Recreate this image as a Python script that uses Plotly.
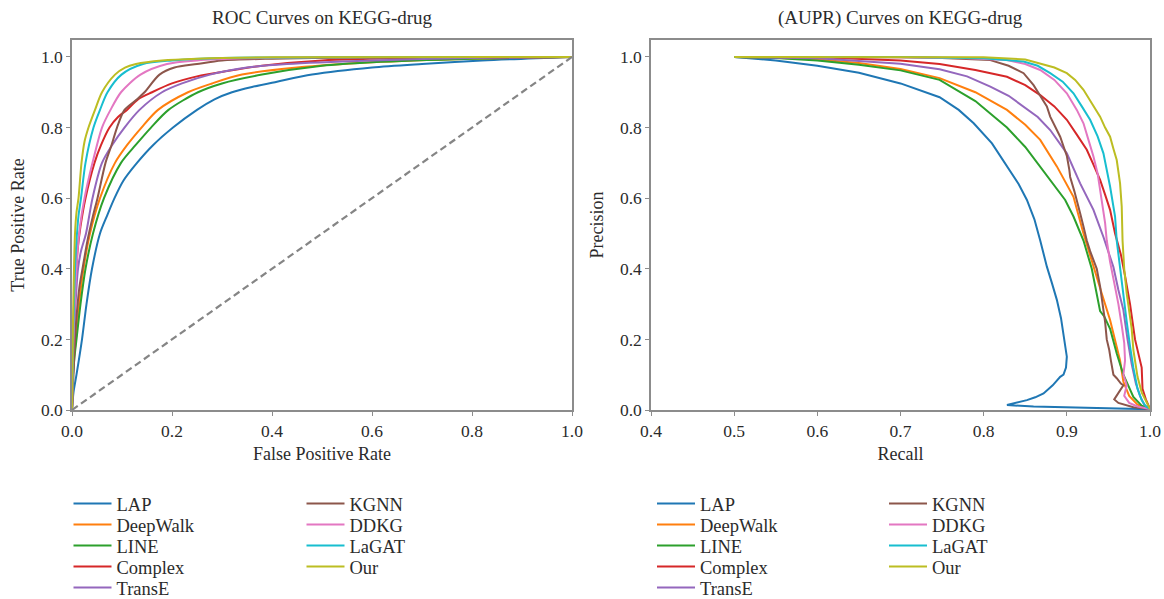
import plotly.graph_objects as go

# ---------------- data ----------------
MODELS = ["LAP", "DeepWalk", "LINE", "Complex", "TransE", "KGNN", "DDKG", "LaGAT", "Our"]
COLORS = ["#1f77b4", "#ff7f0e", "#2ca02c", "#d62728", "#9467bd",
          "#8c564b", "#e377c2", "#17becf", "#bcbd22"]

# ROC curves (false positive rate, true positive rate)
LAP_FPR = [0, 0.003, 0.009, 0.02, 0.029, 0.04, 0.056, 0.07, 0.085, 0.103, 0.13, 0.162, 0.202, 0.25, 0.285, 0.32, 0.36, 0.41, 0.48, 0.6, 0.7, 0.82, 1.0]
LAP_TPR = [0, 0.05, 0.1, 0.2, 0.3, 0.4, 0.5, 0.55, 0.6, 0.65, 0.7, 0.75, 0.8, 0.85, 0.88, 0.9, 0.915, 0.93, 0.95, 0.97, 0.98, 0.99, 1.0]
DEEPWALK_FPR = [0, 0.002, 0.004, 0.008, 0.014, 0.023, 0.036, 0.056, 0.086, 0.11, 0.139, 0.172, 0.232, 0.28, 0.34, 0.45, 0.6, 0.8, 1.0]
DEEPWALK_TPR = [0, 0.1, 0.15, 0.2, 0.3, 0.4, 0.5, 0.6, 0.7, 0.75, 0.8, 0.85, 0.9, 0.925, 0.95, 0.97, 0.985, 0.995, 1.0]
LINE_FPR = [0, 0.002, 0.005, 0.009, 0.017, 0.027, 0.042, 0.064, 0.098, 0.127, 0.158, 0.193, 0.252, 0.3, 0.38, 0.5, 0.6, 0.8, 1.0]
LINE_TPR = [0, 0.1, 0.15, 0.2, 0.3, 0.4, 0.5, 0.6, 0.7, 0.75, 0.8, 0.85, 0.9, 0.925, 0.95, 0.975, 0.985, 0.995, 1.0]
COMPLEX_FPR = [0, 0.002, 0.004, 0.007, 0.011, 0.017, 0.027, 0.045, 0.058, 0.075, 0.092, 0.11, 0.132, 0.16, 0.2, 0.25, 0.31, 0.38, 0.5, 0.7, 1.0]
COMPLEX_TPR = [0, 0.15, 0.25, 0.35, 0.45, 0.52, 0.6, 0.7, 0.75, 0.8, 0.83, 0.85, 0.88, 0.9, 0.925, 0.945, 0.96, 0.975, 0.99, 0.997, 1.0]
TRANSE_FPR = [0, 0.002, 0.004, 0.007, 0.012, 0.018, 0.028, 0.041, 0.06, 0.08, 0.105, 0.135, 0.18, 0.22, 0.276, 0.35, 0.43, 0.6, 0.8, 1.0]
TRANSE_TPR = [0, 0.1, 0.2, 0.3, 0.4, 0.45, 0.5, 0.6, 0.7, 0.75, 0.8, 0.85, 0.9, 0.925, 0.95, 0.97, 0.98, 0.99, 0.997, 1.0]
KGNN_FPR = [0, 0.003, 0.006, 0.01, 0.015, 0.021, 0.031, 0.042, 0.051, 0.067, 0.079, 0.09, 0.105, 0.13, 0.145, 0.175, 0.205, 0.25, 0.3, 0.4, 0.55, 0.75, 1.0]
KGNN_TPR = [0, 0.1, 0.2, 0.28, 0.35, 0.4, 0.48, 0.55, 0.6, 0.7, 0.75, 0.8, 0.85, 0.88, 0.9, 0.95, 0.97, 0.98, 0.99, 0.995, 0.998, 1.0, 1.0]
DDKG_FPR = [0, 0.002, 0.004, 0.007, 0.011, 0.016, 0.025, 0.041, 0.06, 0.077, 0.098, 0.137, 0.19, 0.25, 0.35, 0.5, 1.0]
DDKG_TPR = [0, 0.15, 0.25, 0.35, 0.45, 0.52, 0.6, 0.7, 0.8, 0.85, 0.9, 0.95, 0.98, 0.99, 0.996, 0.999, 1.0]
LAGAT_FPR = [0, 0.002, 0.004, 0.006, 0.009, 0.013, 0.018, 0.027, 0.043, 0.056, 0.071, 0.099, 0.142, 0.2, 0.3, 0.5, 1.0]
LAGAT_TPR = [0, 0.2, 0.3, 0.4, 0.48, 0.55, 0.6, 0.7, 0.8, 0.85, 0.9, 0.95, 0.98, 0.99, 0.997, 0.999, 1.0]
OUR_FPR = [0, 0.002, 0.004, 0.006, 0.009, 0.013, 0.019, 0.025, 0.033, 0.046, 0.06, 0.086, 0.106, 0.128, 0.18, 0.25, 0.4, 1.0]
OUR_TPR = [0, 0.25, 0.4, 0.5, 0.56, 0.6, 0.7, 0.76, 0.8, 0.85, 0.9, 0.95, 0.97, 0.98, 0.99, 0.995, 0.999, 1.0]

# Precision-recall curves (recall, precision)
LAP_REC = [0.5, 0.55, 0.6, 0.65, 0.7, 0.747, 0.77, 0.788, 0.81, 0.828, 0.842, 0.852, 0.861, 0.868, 0.876, 0.882, 0.888, 0.893, 0.896, 0.898, 0.9, 0.899, 0.896, 0.892, 0.883, 0.872, 0.862, 0.852, 0.84, 0.828, 0.86, 0.944, 1.0]
LAP_PRE = [1.0, 0.99, 0.975, 0.955, 0.925, 0.886, 0.85, 0.812, 0.755, 0.69, 0.64, 0.595, 0.54, 0.48, 0.406, 0.36, 0.312, 0.26, 0.218, 0.19, 0.151, 0.12, 0.1, 0.094, 0.07, 0.047, 0.036, 0.028, 0.02, 0.014, 0.01, 0.004, 0.002]
DEEPWALK_REC = [0.5, 0.55, 0.6, 0.65, 0.7, 0.747, 0.79, 0.828, 0.85, 0.868, 0.888, 0.908, 0.92, 0.932, 0.942, 0.952, 0.958, 0.964, 0.968, 0.975, 0.985, 1.0]
DEEPWALK_PRE = [1.0, 0.998, 0.993, 0.983, 0.966, 0.94, 0.9, 0.85, 0.808, 0.765, 0.69, 0.604, 0.5, 0.405, 0.33, 0.255, 0.2, 0.14, 0.08, 0.04, 0.015, 0.003]
LINE_REC = [0.5, 0.55, 0.6, 0.65, 0.7, 0.747, 0.79, 0.828, 0.85, 0.868, 0.884, 0.898, 0.908, 0.92, 0.93, 0.935, 0.94, 0.945, 0.952, 0.96, 0.968, 0.98, 0.99, 1.0]
LINE_PRE = [1.0, 0.997, 0.99, 0.978, 0.962, 0.935, 0.875, 0.8, 0.745, 0.69, 0.64, 0.595, 0.548, 0.48, 0.4, 0.34, 0.28, 0.265, 0.23, 0.16, 0.1, 0.037, 0.012, 0.003]
COMPLEX_REC = [0.5, 0.6, 0.7, 0.747, 0.79, 0.828, 0.85, 0.868, 0.885, 0.9, 0.912, 0.924, 0.932, 0.94, 0.946, 0.952, 0.958, 0.965, 0.97, 0.976, 0.982, 0.987, 0.99, 0.991, 0.995, 1.0]
COMPLEX_PRE = [1.0, 0.999, 0.99, 0.98, 0.963, 0.944, 0.92, 0.892, 0.86, 0.822, 0.78, 0.737, 0.695, 0.652, 0.61, 0.567, 0.5, 0.44, 0.38, 0.3, 0.2, 0.15, 0.12, 0.06, 0.03, 0.003]
TRANSE_REC = [0.5, 0.6, 0.7, 0.747, 0.78, 0.808, 0.83, 0.848, 0.865, 0.88, 0.9, 0.916, 0.932, 0.944, 0.956, 0.962, 0.968, 0.973, 0.978, 0.983, 0.988, 0.993, 1.0]
TRANSE_PRE = [1.0, 0.996, 0.981, 0.965, 0.945, 0.916, 0.89, 0.859, 0.83, 0.793, 0.727, 0.642, 0.567, 0.49, 0.405, 0.34, 0.283, 0.2, 0.13, 0.075, 0.04, 0.015, 0.003]
KGNN_REC = [0.5, 0.6, 0.7, 0.75, 0.808, 0.83, 0.848, 0.86, 0.868, 0.876, 0.88, 0.887, 0.892, 0.897, 0.9, 0.903, 0.904, 0.909, 0.912, 0.916, 0.92, 0.924, 0.928, 0.932, 0.936, 0.94, 0.942, 0.944, 0.946, 0.948, 0.951, 0.953, 0.956, 0.96, 0.965, 0.968, 0.962, 0.957, 0.962, 0.97, 0.98, 1.0]
KGNN_PRE = [1.0, 1.0, 0.999, 0.997, 0.991, 0.975, 0.954, 0.92, 0.888, 0.86, 0.831, 0.8, 0.774, 0.74, 0.72, 0.68, 0.66, 0.62, 0.595, 0.557, 0.52, 0.48, 0.45, 0.425, 0.4, 0.35, 0.32, 0.28, 0.25, 0.2, 0.17, 0.14, 0.1, 0.09, 0.075, 0.07, 0.05, 0.03, 0.02, 0.015, 0.008, 0.003]
DDKG_REC = [0.52, 0.6, 0.7, 0.78, 0.828, 0.85, 0.868, 0.885, 0.9, 0.912, 0.92, 0.926, 0.932, 0.937, 0.94, 0.946, 0.948, 0.952, 0.957, 0.962, 0.966, 0.969, 0.97, 0.968, 0.972, 0.969, 0.975, 0.985, 1.0]
DDKG_PRE = [1.0, 1.0, 0.999, 0.996, 0.991, 0.98, 0.963, 0.935, 0.897, 0.85, 0.812, 0.765, 0.718, 0.67, 0.623, 0.53, 0.48, 0.42, 0.36, 0.3, 0.24, 0.19, 0.14, 0.1, 0.07, 0.04, 0.02, 0.01, 0.003]
LAGAT_REC = [0.5, 0.6, 0.7, 0.8, 0.848, 0.865, 0.88, 0.895, 0.908, 0.918, 0.928, 0.937, 0.944, 0.952, 0.958, 0.96, 0.964, 0.968, 0.972, 0.976, 0.98, 0.985, 0.99, 0.995, 1.0]
LAGAT_PRE = [1.0, 1.0, 1.0, 0.996, 0.987, 0.975, 0.954, 0.93, 0.897, 0.86, 0.822, 0.775, 0.727, 0.633, 0.548, 0.48, 0.4, 0.33, 0.25, 0.18, 0.12, 0.06, 0.028, 0.01, 0.003]
OUR_REC = [0.5, 0.6, 0.7, 0.8, 0.85, 0.868, 0.885, 0.9, 0.91, 0.92, 0.93, 0.94, 0.946, 0.952, 0.956, 0.96, 0.964, 0.966, 0.967, 0.969, 0.972, 0.975, 0.978, 0.98, 0.985, 0.99, 0.995, 1.0]
OUR_PRE = [1.0, 1.0, 1.0, 0.999, 0.993, 0.982, 0.97, 0.954, 0.935, 0.907, 0.87, 0.831, 0.8, 0.774, 0.74, 0.708, 0.642, 0.576, 0.48, 0.4, 0.33, 0.28, 0.23, 0.17, 0.094, 0.05, 0.025, 0.003]

CHANCE_X = [0, 1]
CHANCE_Y = [0, 1]

ROC_X = [LAP_FPR, DEEPWALK_FPR, LINE_FPR, COMPLEX_FPR, TRANSE_FPR, KGNN_FPR, DDKG_FPR, LAGAT_FPR, OUR_FPR]
ROC_Y = [LAP_TPR, DEEPWALK_TPR, LINE_TPR, COMPLEX_TPR, TRANSE_TPR, KGNN_TPR, DDKG_TPR, LAGAT_TPR, OUR_TPR]
PR_X = [LAP_REC, DEEPWALK_REC, LINE_REC, COMPLEX_REC, TRANSE_REC, KGNN_REC, DDKG_REC, LAGAT_REC, OUR_REC]
PR_Y = [LAP_PRE, DEEPWALK_PRE, LINE_PRE, COMPLEX_PRE, TRANSE_PRE, KGNN_PRE, DDKG_PRE, LAGAT_PRE, OUR_PRE]

# ---------------- figure ----------------
W, H = 1164, 599
FONT = "Liberation Serif"
TXT = "#2b2b2b"
AX = "#8c8c8c"

fig = go.Figure()

ROWS = [504, 525, 546, 567, 588]
LEFT_COLS = [68.5, 301.5]
RIGHT_COLS = [652, 884]

def legend_pos(idx, cols):
    col = 0 if idx < 5 else 1
    row = idx if idx < 5 else idx - 5
    return cols[col], ROWS[row]

legend_layout = {}
n = 0
for XS, YS, xa, ya, cols, shape in [
        (ROC_X, ROC_Y, "x", "y", LEFT_COLS, "spline"),
        (PR_X, PR_Y, "x2", "y2", RIGHT_COLS, "linear")]:
    for i, name in enumerate(MODELS):
        n += 1
        lname = "legend" if n == 1 else f"legend{n}"
        line = dict(color=COLORS[i], width=2, shape=shape)
        if shape == "spline":
            line["smoothing"] = 0.8
        fig.add_trace(go.Scatter(
            x=XS[i], y=YS[i], mode="lines", name=name, line=line,
            xaxis=xa, yaxis=ya, legend=lname, showlegend=True))
        px, py = legend_pos(i, cols)
        legend_layout[lname] = dict(
            x=px / W, y=1 - py / H, xanchor="left", yanchor="middle",
            bgcolor="rgba(0,0,0,0)", borderwidth=0, itemwidth=38,
            font=dict(family=FONT, size=18.5, color=TXT),
            itemclick=False, itemdoubleclick=False)

fig.add_trace(go.Scatter(
    x=CHANCE_X, y=CHANCE_Y, mode="lines", showlegend=False,
    line=dict(color="#858585", width=2.2, dash="7px,4px"), xaxis="x", yaxis="y"))

axis_common = dict(
    showgrid=False, zeroline=False, showline=True, mirror=True,
    linecolor=AX, linewidth=1.5, ticks="outside", ticklen=4,
    tickcolor=AX, tickwidth=1.2, automargin=False,
    tickfont=dict(family=FONT, size=17.5, color=TXT),
    tickformat=".1f")

y0 = 1 - 410 / H
y1 = 1 - 40 / H
TFONT = dict(family=FONT, size=18, color=TXT)

fig.update_layout(
    width=W, height=H,
    margin=dict(l=0, r=0, t=0, b=0, autoexpand=False),
    paper_bgcolor="white", plot_bgcolor="white",
    font=dict(family=FONT, color=TXT),
    hovermode=False,
    xaxis=dict(domain=[72 / W, 572 / W], range=[0, 1.0], dtick=0.2, tick0=0,
               title=dict(text="False Positive Rate", standoff=8, font=TFONT),
               anchor="y", **axis_common),
    yaxis=dict(domain=[y0, y1], range=[0, 1.048], dtick=0.2, tick0=0,
               title=dict(text="True Positive Rate", standoff=12, font=TFONT),
               anchor="x", **axis_common),
    xaxis2=dict(domain=[651 / W, 1150 / W], range=[0.4, 1.0], dtick=0.1, tick0=0.4,
                title=dict(text="Recall", standoff=8, font=TFONT),
                anchor="y2", **axis_common),
    yaxis2=dict(domain=[y0, y1], range=[0, 1.048], dtick=0.2, tick0=0,
                title=dict(text="Precision", standoff=12, font=TFONT),
                anchor="x2", **axis_common),
    annotations=[
        dict(text="ROC Curves on KEGG-drug", x=322 / W, y=1 - 18 / H,
             xref="paper", yref="paper", xanchor="center", yanchor="middle",
             showarrow=False, font=dict(family=FONT, size=19, color=TXT)),
        dict(text="(AUPR) Curves on KEGG-drug", x=900 / W, y=1 - 18 / H,
             xref="paper", yref="paper", xanchor="center", yanchor="middle",
             showarrow=False, font=dict(family=FONT, size=19, color=TXT)),
    ],
    **legend_layout,
)

fig.write_html("out.html",
               config={"displayModeBar": False, "staticPlot": False},
               post_script="document.body.style.margin='0';document.body.style.overflow='hidden';")
